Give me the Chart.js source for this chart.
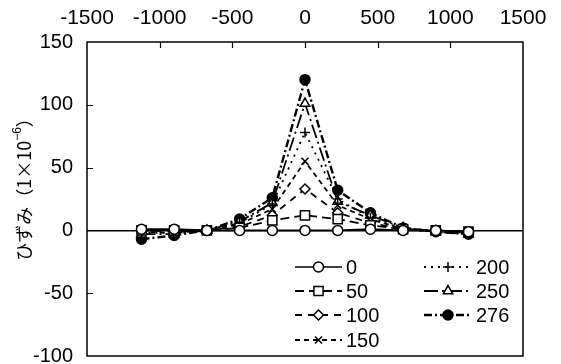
<!DOCTYPE html>
<html>
<head>
<meta charset="utf-8">
<script src="https://cdn.jsdelivr.net/npm/chart.js@4/dist/chart.umd.min.js"></script>
<style>
html, body { margin: 0; padding: 0; background: #fff; }
canvas { display: block; }
</style>
</head>
<body>
<canvas id="strainChart" width="561" height="364"></canvas>
<script>
// gauge positions along the member (mm)
const positions = [-1125, -900, -675, -450, -225, 0, 225, 450, 675, 900, 1125];

// strain readings (x10^-6) for each load step
const load0 = [1, 1, 0, 0, 0, 0, 0, 1, 0, 0, -1];
const load50 = [0, 0, 0, 2, 8, 12, 9, 4, 1, 0, -1];
const load100 = [0, -1, 0, 3, 12, 33, 14, 6, 1, 0, -2];
const load150 = [-1, -2, 0, 5, 17, 55, 20, 9, 1, -1, -2];
const load200 = [-2, -2, 0, 6, 21, 78, 25, 10, 1, -1, -3];
const load250 = [-3, -3, 0, 7, 22, 101, 23, 12, 2, -1, -3];
const load276 = [-7, -4, 0, 9, 26, 120, 32, 14, 2, -1, -3];

const loadNames = ['0', '50', '100', '150', '200', '250', '276'];
const xTicks = [-1500, -1000, -500, 0, 500, 1000, 1500];
const yTicks = [-100, -50, 0, 50, 100, 150];

const tickFont = { family: "'Liberation Sans', Arial, sans-serif", size: 20 };

function toPoints(values) {
	return values.map((v, i) => ({ x: positions[i], y: v }));
}

function makeSeries(label, values, style, radius, dash, fill, width) {
	return {
		label: label,
		data: toPoints(values),
		borderColor: '#000',
		borderWidth: width,
		borderDash: dash,
		pointStyle: style,
		pointRadius: radius,
		pointHoverRadius: radius,
		pointBorderWidth: 1.5,
		pointBorderColor: '#000',
		pointBackgroundColor: fill,
		backgroundColor: fill,
		tension: 0,
		fill: false
	};
}

const datasets = [
	makeSeries(loadNames[0], load0, 'circle', 5, [], '#fff', 1.6),
	makeSeries(loadNames[1], load50, 'rect', 6.5, [9, 5], '#fff', 1.8),
	makeSeries(loadNames[2], load100, 'rectRot', 5, [7, 6], '#fff', 1.8),
	makeSeries(loadNames[3], load150, 'crossRot', 5, [5, 4], '#fff', 1.8),
	makeSeries(loadNames[4], load200, 'cross', 5, [2, 5], '#fff', 1.8),
	makeSeries(loadNames[5], load250, 'triangle', 5.5, [14, 4, 2, 4], '#fff', 1.8),
	makeSeries(loadNames[6], load276, 'circle', 5, [8, 3, 2, 3], '#000', 2.4)
];

// frame, inward tick marks, two-column legend and the rotated axis title
const decorations = {
	id: 'decorations',
	afterDraw(chart) {
		const ctx = chart.ctx;
		const area = chart.chartArea;
		const xs = chart.scales.x;
		const ys = chart.scales.y;

		ctx.save();
		ctx.strokeStyle = '#000';
		ctx.lineWidth = 1.5;
		ctx.setLineDash([]);
		ctx.strokeRect(area.left, area.top, area.right - area.left, area.bottom - area.top);

		ctx.lineWidth = 1.2;
		ctx.beginPath();
		xTicks.slice(1, -1).forEach((t) => {
			const px = Math.round(xs.getPixelForValue(t)) + 0.5;
			ctx.moveTo(px, area.top);
			ctx.lineTo(px, area.top + 6);
		});
		yTicks.slice(1, -1).forEach((t) => {
			const py = Math.round(ys.getPixelForValue(t)) + 0.5;
			ctx.moveTo(area.left, py);
			ctx.lineTo(area.left + 6, py);
		});
		ctx.stroke();

		// legend
		const rows = [267, 291, 315, 340];
		const columns = [
			{ x0: 295, x1: 342, text: 346 },
			{ x0: 424, x1: 472, text: 476 }
		];
		chart.data.datasets.forEach((ds, i) => {
			const col = columns[i < 4 ? 0 : 1];
			const y = rows[i < 4 ? i : i - 4];
			ctx.strokeStyle = '#000';
			ctx.lineWidth = ds.borderWidth;
			ctx.setLineDash(ds.borderDash);
			ctx.beginPath();
			ctx.moveTo(col.x0, y);
			ctx.lineTo(col.x1, y);
			ctx.stroke();
			ctx.setLineDash([]);
			ctx.lineWidth = ds.pointBorderWidth;
			ctx.fillStyle = ds.pointBackgroundColor;
			const mx = (col.x0 + col.x1) / 2;
			Chart.helpers.drawPoint(ctx, {
				pointStyle: ds.pointStyle,
				radius: ds.pointRadius,
				rotation: 0,
				borderWidth: ds.pointBorderWidth
			}, mx, y);
			ctx.fillStyle = '#000';
			ctx.font = "20px 'Liberation Sans', Arial, sans-serif";
			ctx.textAlign = 'left';
			ctx.textBaseline = 'middle';
			ctx.fillText(ds.label, col.text, y + 1);
		});

		// y axis title with superscript exponent
		ctx.translate(24, 185);
		ctx.rotate(-Math.PI / 2);
		ctx.fillStyle = '#000';
		ctx.textBaseline = 'middle';
		ctx.textAlign = 'left';
		const mainFont = "18px 'Noto Sans CJK JP', sans-serif";
		const supFont = "12px 'Liberation Sans', Arial, sans-serif";
		const head = 'ひずみ（1×10';
		const sup = '−6';
		const tail = '）';
		ctx.font = mainFont;
		const wHead = ctx.measureText(head).width;
		const wTail = ctx.measureText(tail).width;
		ctx.font = supFont;
		const wSup = ctx.measureText(sup).width;
		let x = -(wHead + wSup + wTail) / 2;
		ctx.font = mainFont;
		ctx.fillText(head, x, 0);
		x += wHead;
		ctx.font = supFont;
		ctx.fillText(sup, x, -6);
		x += wSup;
		ctx.font = mainFont;
		ctx.fillText(tail, x, 0);
		ctx.restore();
	}
};

new Chart(document.getElementById('strainChart'), {
	type: 'line',
	data: { datasets: datasets },
	options: {
		responsive: false,
		animation: false,
		devicePixelRatio: 1,
		layout: { padding: { left: 0, right: 38, top: 0, bottom: 3 } },
		plugins: {
			legend: { display: false },
			tooltip: { enabled: false }
		},
		scales: {
			x: {
				type: 'linear',
				position: 'top',
				min: -1500,
				max: 1500,
				grid: { display: false, drawTicks: false },
				border: { display: false },
				ticks: {
					stepSize: 500,
					color: '#000',
					padding: 11,
					font: { family: tickFont.family, size: 21 },
					callback: (value) => String(value)
				},
				afterFit(scale) {
					scale.height = 42;
					scale.paddingLeft = 0;
					scale.paddingRight = 0;
				}
			},
			y: {
				min: -100,
				max: 150,
				grid: {
					drawTicks: false,
					color: (c) => (c.tick && c.tick.value === 0 ? '#000' : 'rgba(0,0,0,0)'),
					lineWidth: 1.5
				},
				border: { display: false },
				ticks: {
					stepSize: 50,
					color: '#000',
					padding: 14,
					font: tickFont,
					callback: (value) => String(value)
				},
				afterFit(scale) {
					scale.width = 87;
					scale.paddingTop = 0;
					scale.paddingBottom = 0;
				}
			}
		}
	},
	plugins: [decorations]
});
</script>
</body>
</html>
